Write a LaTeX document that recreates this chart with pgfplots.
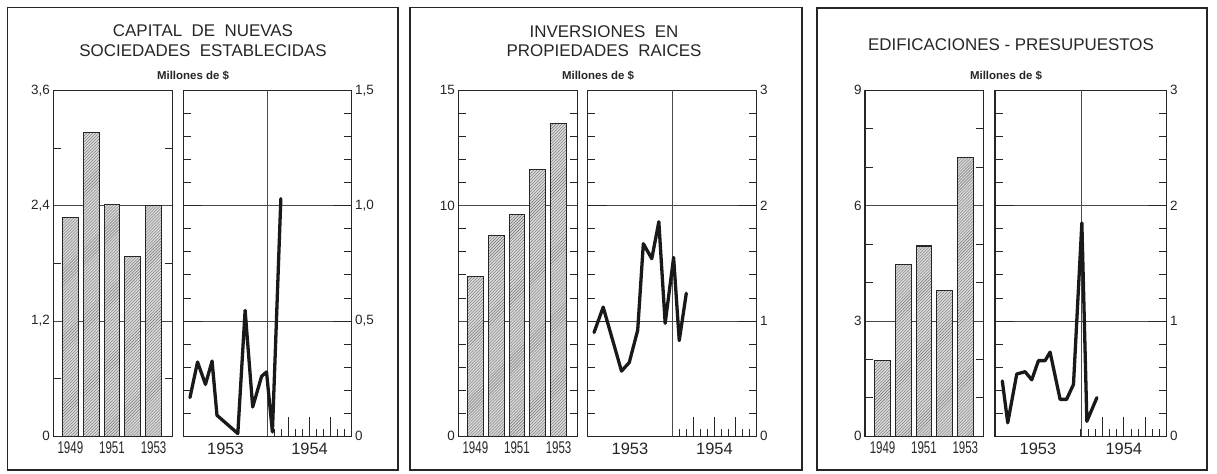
\documentclass[border=0pt]{standalone}
\usepackage{pgfplots}
\pgfplotsset{compat=1.18}
\usepackage{fontspec}
\setmainfont{Liberation Sans}
\usetikzlibrary{patterns}

\definecolor{ink}{HTML}{262626}
\definecolor{gridc}{HTML}{4A4A4A}

\pgfplotsset{
  common/.style={
    scale only axis, height=346bp, ymin=0,
    axis line style={draw=ink, line width=1.1pt},
    tick align=inside,
    tick style={draw=ink, line width=0.8pt},
    ymajorgrids, major grid style={draw=gridc, line width=0.7pt},
    ytick pos=both,
    tick label style={font=\fontsize{13.5}{15}\selectfont, text=ink},
    minor tick length=7.5bp,
  },
  barax/.style={
    common, ybar, bar width=0.76,
    xmin=-0.82, xmax=4.92,
    xtick={0,2,4},
    xticklabels={\scalebox{0.68}[1]{1949},\scalebox{0.68}[1]{1951},\scalebox{0.68}[1]{1953}},
    xtick style={draw=none},
    xticklabel style={font=\fontsize{17}{19}\selectfont, yshift=-2bp},
    yticklabel pos=left,
    major tick length=0pt,
  },
  lineax/.style={
    common,
    xmin=0, xmax=24,
    xtick={15,18,21}, xticklabels={},
    xtick pos=left,
    minor xtick={12,13,14,16,17,19,20,22,23},
    major tick length=19bp,
    extra x ticks={6,18}, extra x tick labels={1953,1954},
    extra x tick style={major tick length=0pt, xticklabel style={font=\fontsize{16.5}{18}\selectfont, yshift=-3bp}},
    yticklabel pos=right,
  },
  barsty/.style={draw=ink, line width=1.1pt, fill=black!15,
    postaction={pattern=north east lines, pattern color=black!55}},
  linesty/.style={draw=black!90, line width=3.3pt, line join=round, line cap=round, no marks},
}

\begin{document}
\begin{tikzpicture}
\useasboundingbox (0,0) rectangle (1217bp,474bp);
\fill[white] (0,0) rectangle (1217bp,474bp);
% frames
\draw[ink, line width=1.3pt] (7.5bp,4bp) rectangle (398bp,466.5bp);
\draw[ink, line width=1.3pt] (410bp,4bp) rectangle (802bp,466.5bp);
\draw[ink, line width=1.3pt] (817bp,4bp) rectangle (1207bp,466bp);

% titles
\node[font=\fontsize{17}{20}\selectfont, text=ink] at (203bp,443.3bp) {CAPITAL\ \ DE\ \ NUEVAS};
\node[font=\fontsize{17}{20}\selectfont, text=ink] at (203bp,423.3bp) {SOCIEDADES\ \ ESTABLECIDAS};
\node[font=\fontsize{17}{20}\selectfont, text=ink] at (604bp,442.3bp) {INVERSIONES\ \ EN};
\node[font=\fontsize{17}{20}\selectfont, text=ink] at (604bp,423.3bp) {PROPIEDADES\ \ RAICES};
\node[font=\fontsize{17}{20}\selectfont, text=ink] at (1011bp,429bp) {EDIFICACIONES\ -\ PRESUPUESTOS};
\node[font=\bfseries\fontsize{11.5}{13}\selectfont, text=ink] at (193bp,398bp) {Millones de \$};
\node[font=\bfseries\fontsize{11.5}{13}\selectfont, text=ink] at (598bp,398bp) {Millones de \$};
\node[font=\bfseries\fontsize{11.5}{13}\selectfont, text=ink] at (1006bp,398bp) {Millones de \$};

% ---------- Panel 1 ----------
\begin{axis}[barax, at={(53.3bp,37.7bp)}, anchor=south west, width=119.4bp,
  ymax=3.6, ytick={0,1.2,2.4,3.6}, yticklabels={0,{1,2},{2,4},{3,6}},
  minor ytick={0.6,1.8,3.0}]
\addplot[barsty] table {
x y
0 2.28
1 3.16
2 2.41
3 1.87
4 2.40
};
\end{axis}
\begin{axis}[lineax, at={(183.3bp,37.7bp)}, anchor=south west, width=168.4bp,
  ymax=1.5, ytick={0,0.5,1,1.5}, yticklabels={0,{0,5},{1,0},{1,5}},
  minor ytick={0.1,0.2,0.3,0.4,0.6,0.7,0.8,0.9,1.1,1.2,1.3,1.4}]
\draw[gridc, line width=0.7pt] (axis cs:12,0) -- (axis cs:12,1.5);
\addplot[linesty] table {
x y
0.95 0.168
2.03 0.322
3.16 0.225
4.10 0.326
4.80 0.091
7.77 0.012
8.81 0.546
9.89 0.127
11.16 0.260
11.86 0.279
12.70 0.019
13.90 1.030
};
\end{axis}

% ---------- Panel 2 ----------
\begin{axis}[barax, at={(458.3bp,37.7bp)}, anchor=south west, width=119.4bp,
  ymax=15, ytick={0,5,10,15}, yticklabels={0,,10,15},
  minor ytick={1,2,3,4,6,7,8,9,11,12,13,14}]
\addplot[barsty] table {
x y
0 6.94
1 8.70
2 9.61
3 11.56
4 13.58
};
\end{axis}
\begin{axis}[lineax, at={(587.7bp,37.7bp)}, anchor=south west, width=169bp,
  ymax=3, ytick={0,1,2,3}, yticklabels={0,1,2,3},
  minor ytick={0.2,0.4,0.6,0.8,1.2,1.4,1.6,1.8,2.2,2.4,2.6,2.8}]
\draw[gridc, line width=0.7pt] (axis cs:12,0) -- (axis cs:12,3);
\addplot[linesty] table {
x y
0.9 0.90
2.2 1.12
4.8 0.565
5.9 0.64
7.1 0.92
7.9 1.67
9.1 1.54
10.1 1.86
11.0 0.98
12.2 1.55
13.0 0.83
14.0 1.24
};
\end{axis}

% ---------- Panel 3 ----------
\begin{axis}[barax, at={(865bp,37.7bp)}, anchor=south west, width=118.3bp,
  xmin=-0.85, xmax=4.87,
  ymax=9, ytick={0,3,6,9}, yticklabels={0,3,6,9},
  minor ytick={1,2,4,5,7,8}]
\addplot[barsty] table {
x y
0 1.96
1 4.47
2 4.95
3 3.80
4 7.25
};
\end{axis}
\begin{axis}[lineax, at={(995bp,37.7bp)}, anchor=south west, width=171.7bp,
  ymax=3, ytick={0,1,2,3}, yticklabels={0,1,2,3},
  minor ytick={0.2,0.4,0.6,0.8,1.2,1.4,1.6,1.8,2.2,2.4,2.6,2.8}]
\draw[gridc, line width=0.7pt] (axis cs:12,0) -- (axis cs:12,3);
\addplot[linesty] table {
x y
1.02 0.48
1.78 0.117
3.04 0.54
4.20 0.56
5.14 0.49
6.07 0.656
7.00 0.656
7.70 0.73
9.10 0.32
10.00 0.32
10.97 0.45
12.14 1.85
12.84 0.13
14.24 0.335
};
\end{axis}
\end{tikzpicture}
\end{document}
